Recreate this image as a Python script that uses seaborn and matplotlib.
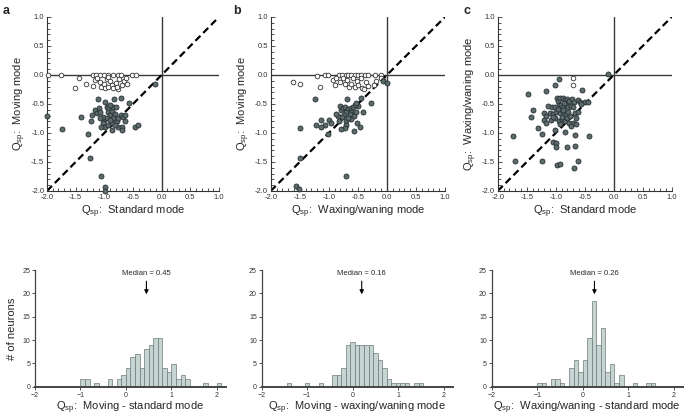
import numpy as np
import pandas as pd
import matplotlib
matplotlib.use("Agg")
import matplotlib.pyplot as plt
from matplotlib.ticker import MultipleLocator
import seaborn as sns

sns.set_style("ticks")
plt.rcParams['font.family'] = ['Liberation Sans', 'DejaVu Sans']
plt.rcParams['mathtext.fontset'] = 'custom'
plt.rcParams['mathtext.rm'] = 'Liberation Sans'

# ---------------- scatter data ----------------
# panel a : x = standard mode, y = moving mode
a_open_x = [-1.99, -1.76, -1.20, -1.15, -1.08, -1.0, -0.94, -0.84, -0.77, -0.71, -0.51, -0.45,
            -1.45, -1.51, -1.32, -1.20, -1.17, -1.12, -1.08, -1.05, -1.0, -0.96, -0.93, -0.90,
            -0.87, -0.84, -0.80, -0.77, -0.74, -0.70, -0.66, -0.62, -0.60, -0.99, -0.93, -0.78]
a_open_y = [0.0, 0.0, 0.0, 0.0, 0.0, 0.0, 0.0, 0.0, 0.0, 0.0, 0.0, 0.0,
            -0.06, -0.22, -0.155, -0.19, -0.09, -0.06, -0.115, -0.20, -0.16, -0.07, -0.03, -0.10,
            -0.18, -0.23, -0.14, -0.24, -0.07, -0.17, -0.10, -0.05, -0.16, -0.22, -0.21, -0.20]
a_fill_x = [-1.105, -1.41, -1.73, -1.28, -1.24, -1.22, -1.16, -1.13, -1.10, -1.08, -0.99, -0.96,
            -0.93, -0.94, -0.90, -0.87, -0.84, -0.83, -0.80, -0.81, -0.84, -1.0, -1.03, -0.99,
            -0.93, -0.87, -0.78, -0.76, -0.71, -0.67, -0.64, -0.71, -0.77, -0.70, -0.69, -0.87,
            -1.05, -0.47, -0.42, -0.57, -0.12, -1.25, -1.06, -0.99, -0.99, -2.0, -1.02, -1.08,
            -0.96, -0.90, -0.81, -0.90, -0.64]
a_fill_y = [-0.42, -0.72, -0.925, -1.01, -0.79, -0.69, -0.60, -0.66, -0.575, -0.63, -0.47, -0.55,
            -0.575, -0.64, -0.69, -0.62, -0.55, -0.42, -0.55, -0.68, -0.75, -0.78, -0.83, -0.89,
            -0.86, -0.83, -0.80, -0.75, -0.69, -0.72, -0.69, -0.40, -0.89, -0.89, -0.95, -0.95,
            -0.89, -0.89, -0.86, -0.49, -0.155, -1.44, -1.74, -1.94, -2.0, -0.70, -0.72, -0.75,
            -0.75, -0.78, -0.86, -0.52, -0.79]

# panel b : x = waxing/waning mode, y = moving mode
b_open_x = [-1.06, -1.01, -0.82, -0.78, -0.71, -0.67, -0.61, -0.55, -0.50, -0.45, -0.38, -0.33,
            -0.20, -0.10, -1.62, -1.50, -1.16, -1.20, -0.93, -0.90, -0.87, -0.81, -0.76, -0.73,
            -0.68, -0.66, -0.61, -0.58, -0.55, -0.52, -0.50, -0.45, -0.43, -0.40, -0.36, -0.33,
            -0.22, -0.18, -0.10, -0.07]
b_open_y = [0.0, 0.0, 0.0, 0.0, 0.0, 0.0, 0.0, 0.0, 0.0, 0.0, 0.0, 0.0,
            0.0, 0.0, -0.12, -0.15, -0.21, -0.02, -0.09, -0.17, -0.05, -0.12, -0.06, -0.15,
            -0.09, -0.21, -0.15, -0.05, -0.21, -0.11, -0.18, -0.06, -0.22, -0.25, -0.12, -0.19,
            -0.17, -0.11, -0.05, -0.09]
b_fill_x = [-1.24, -0.68, -0.44, -0.27, -0.50, -0.81, -0.79, -0.75, -0.72, -0.67, -0.62, -0.58,
            -0.55, -0.53, -0.61, -0.64, -0.70, -0.74, -0.78, -0.84, -0.87, -0.83, -0.71, -0.70,
            -0.73, -0.79, -0.57, -0.52, -0.47, -0.41, -0.57, -0.53, -1.14, -0.99, -0.96, -1.07,
            -1.14, -1.22, -1.49, -1.01, -1.50, -0.71, -1.56, -1.51, -0.06, 0.0, -0.61, -0.67]
b_fill_y = [-0.41, -0.42, -0.39, -0.49, -0.54, -0.54, -0.61, -0.57, -0.55, -0.58, -0.57, -0.55,
            -0.51, -0.48, -0.64, -0.67, -0.64, -0.69, -0.73, -0.70, -0.67, -0.79, -0.80, -0.87,
            -0.92, -0.94, -0.96, -0.83, -0.90, -0.64, -0.70, -0.64, -0.77, -0.77, -0.83, -0.86,
            -0.89, -0.87, -0.92, -1.02, -1.43, -1.74, -1.92, -1.97, -0.10, -0.14, -0.76, -0.75]

# panel c : x = standard mode, y = waxing/waning mode
c_open_x = [-0.71, -0.70]
c_open_y = [-0.05, -0.17]
c_fill_x = [-0.94, -1.48, -1.17, -1.01, -0.55, -0.10, -0.98, -0.96, -0.93, -0.87, -0.84, -0.81,
            -0.77, -0.72, -0.69, -0.62, -0.58, -0.49, -0.45, -1.13, -1.07, -1.01, -0.95, -0.91,
            -0.87, -0.83, -0.78, -0.74, -0.70, -1.39, -1.43, -1.20, -1.16, -1.10, -1.04, -0.99,
            -0.93, -0.87, -0.83, -0.78, -0.67, -0.61, -1.21, -1.16, -1.08, -1.02, -0.95, -0.90,
            -0.84, -0.77, -0.71, -0.74, -0.65, -1.30, -1.24, -1.02, -0.84, -0.67, -1.73, -0.42,
            -1.04, -1.00, -0.99, -0.81, -0.67, -1.70, -1.23, -0.97, -0.93, -0.62, -0.68, -0.90,
            -0.81, -0.88, -0.96, -0.85, -0.75, -0.92, -1.05, -0.65, -0.57]
c_fill_y = [-0.07, -0.33, -0.28, -0.18, -0.26, 0.01, -0.39, -0.45, -0.40, -0.40, -0.43, -0.41,
            -0.45, -0.42, -0.46, -0.43, -0.47, -0.47, -0.46, -0.53, -0.56, -0.55, -0.52, -0.51,
            -0.55, -0.52, -0.56, -0.53, -0.56, -0.60, -0.73, -0.65, -0.70, -0.65, -0.68, -0.63,
            -0.66, -0.62, -0.68, -0.64, -0.66, -0.63, -0.78, -0.82, -0.78, -0.75, -0.79, -0.76,
            -0.80, -0.83, -0.82, -0.88, -0.85, -0.91, -1.01, -0.95, -0.98, -1.03, -1.05, -1.06,
            -1.15, -1.18, -1.24, -1.24, -1.22, -1.49, -1.49, -1.55, -1.54, -1.49, -1.61, -0.72,
            -0.74, -0.60, -0.58, -0.48, -0.70, -0.85, -0.72, -0.75, -0.50]

# ---------------- histogram data (bin centres, bar heights) ----------------
ha_centers = [-0.95, -0.85, -0.65, -0.35, -0.15, -0.05, 0.05, 0.15, 0.25, 0.35, 0.45,
              0.55, 0.65, 0.75, 0.85, 0.95, 1.05, 1.15, 1.25, 1.35, 1.75, 2.05]
ha_heights = [1.57, 1.57, 0.7, 1.57, 1.57, 2.4, 4.0, 6.4, 7.1, 4.0, 8.0,
              8.9, 10.4, 10.4, 4.0, 3.2, 4.9, 1.57, 2.4, 1.57, 0.7, 0.7]
hb_centers = [-1.4, -1.0, -0.7, -0.4, -0.3, -0.2, -0.1, 0.0, 0.1, 0.2, 0.3,
              0.4, 0.5, 0.6, 0.7, 0.8, 0.9, 1.0, 1.1, 1.2, 1.4, 1.5]
hb_heights = [0.7, 0.7, 0.7, 2.4, 2.4, 4.0, 8.9, 9.6, 8.9, 8.9, 8.9,
              8.9, 7.3, 5.7, 4.0, 1.57, 0.7, 0.7, 0.7, 0.7, 0.7, 0.7]
hc_centers = [-0.95, -0.85, -0.65, -0.55, -0.45, -0.25, -0.15, -0.05, 0.05, 0.15,
              0.25, 0.35, 0.45, 0.55, 0.65, 0.75, 0.85, 1.15, 1.45, 1.55]
hc_heights = [0.7, 0.7, 1.57, 1.57, 0.7, 4.0, 5.7, 3.2, 5.7, 10.4,
              18.4, 8.9, 12.6, 3.2, 4.9, 0.7, 2.4, 0.7, 0.7, 0.7]

medians = [0.45, 0.16, 0.26]
median_arrow_x = [0.45, 0.2, 0.26]

scatter_xlabels = ["Standard mode", "Waxing/waning mode", "Standard mode"]
scatter_ylabels = ["Moving mode", "Moving mode", "Waxing/waning mode"]
hist_xlabels = ["Moving - standard mode", "Moving - waxing/waning mode",
                "Waxing/waning - standard mode"]
panel_letters = ["a", "b", "c"]

QSP = r"Q$_{\mathregular{sp}}$:  "

fill_col = "#5d6b6c"
fill_edge = "#263032"
bar_col = "#c6d5d1"
bar_edge = "#6c7b79"

# ------------------------------------------------------------------
fig = plt.figure(figsize=(6.85, 4.19), dpi=100)

sc_left = [0.0686, 0.3952, 0.7266]
sc_w = [0.2511, 0.2545, 0.254]
h_left = [0.0511, 0.382, 0.7178]

scat = [(a_open_x, a_open_y, a_fill_x, a_fill_y),
        (b_open_x, b_open_y, b_fill_x, b_fill_y),
        (c_open_x, c_open_y, c_fill_x, c_fill_y)]

for i in range(3):
    ax = fig.add_axes([sc_left[i], 0.5442, sc_w[i], 0.4153])
    ox, oy, fx, fy = scat[i]
    ax.axhline(0, color="#3a3a3a", lw=1.0, zorder=1)
    ax.axvline(0, color="#3a3a3a", lw=1.0, zorder=1)
    ax.plot([-2, 1], [-2, 1], color="black", lw=1.6, ls=(0, (3.2, 1.8)), zorder=2)
    sns.scatterplot(x=ox, y=oy, ax=ax, color="white", edgecolor="#333333",
                    linewidth=0.6, s=11, zorder=3, clip_on=False)
    sns.scatterplot(x=fx, y=fy, ax=ax, color=fill_col, edgecolor=fill_edge,
                    linewidth=0.6, s=13, zorder=4, clip_on=False)
    ax.set_xlim(-2, 1)
    ax.set_ylim(-2, 1)
    ax.xaxis.set_major_locator(MultipleLocator(0.5))
    ax.yaxis.set_major_locator(MultipleLocator(0.5))
    ax.xaxis.set_minor_locator(MultipleLocator(0.1))
    ax.yaxis.set_minor_locator(MultipleLocator(0.1))
    ax.tick_params(which="both", direction="in", labelsize=5.5, colors="#333333",
                   width=0.6, pad=2)
    ax.tick_params(which="major", length=3)
    ax.tick_params(which="minor", length=2)
    ax.xaxis.set_major_formatter(plt.FormatStrFormatter("%.1f"))
    ax.yaxis.set_major_formatter(plt.FormatStrFormatter("%.1f"))
    sns.despine(ax=ax)
    for sp in ["left", "bottom"]:
        ax.spines[sp].set_linewidth(0.8)
        ax.spines[sp].set_color("#333333")
    ax.set_xlabel(QSP + scatter_xlabels[i], fontsize=8, labelpad=2)
    ax.set_ylabel(QSP + scatter_ylabels[i], fontsize=8, labelpad=2)
    fig.text([3, 233, 463][i] / 685, 1 - 11 / 419, panel_letters[i],
             fontsize=9, fontweight="bold", va="center")

hists = [(ha_centers, ha_heights, list(np.round(np.arange(-2.0, 2.25, 0.1), 2))),
         (hb_centers, hb_heights, list(np.round(np.arange(-2.05, 2.3, 0.1), 2))),
         (hc_centers, hc_heights, list(np.round(np.arange(-2.0, 2.25, 0.1), 2)))]

for i in range(3):
    ax = fig.add_axes([h_left[i], 0.0771, 0.2788, 0.2785])
    cx, hy, edges = hists[i]
    df = pd.DataFrame({"q": cx, "n": hy})
    sns.histplot(data=df, x="q", weights="n", bins=edges, ax=ax, color=bar_col,
                 edgecolor=bar_edge, linewidth=0.5, alpha=1)
    ax.set_xlim(-2, 2.2)
    ax.set_ylim(0, 25)
    ax.set_xticks([-2, -1, 0, 1, 2])
    ax.set_yticks([0, 5, 10, 15, 20, 25])
    ax.tick_params(labelsize=5, length=2, width=0.6, pad=1.5, colors="#333333")
    sns.despine(ax=ax)
    ax.spines["bottom"].set_linewidth(1.4)
    ax.spines["bottom"].set_color("#444444")
    ax.spines["left"].set_linewidth(0.9)
    ax.spines["left"].set_color("#444444")
    ax.set_xlabel(QSP + hist_xlabels[i], fontsize=8, labelpad=1)
    if i == 0:
        ax.set_ylabel("# of neurons", fontsize=8, labelpad=4)
    else:
        ax.set_ylabel("")
    mx = median_arrow_x[i]
    ax.annotate("", xy=(mx, 19.8), xytext=(mx, 22.6),
                arrowprops=dict(arrowstyle="-|>", color="black", lw=0.8,
                                mutation_scale=6, shrinkA=0, shrinkB=0))
    ax.text(mx, 24.3, "Median = %.2f" % medians[i], fontsize=5.5,
            ha="center", va="center")

fig.savefig("out.png", dpi=100)
